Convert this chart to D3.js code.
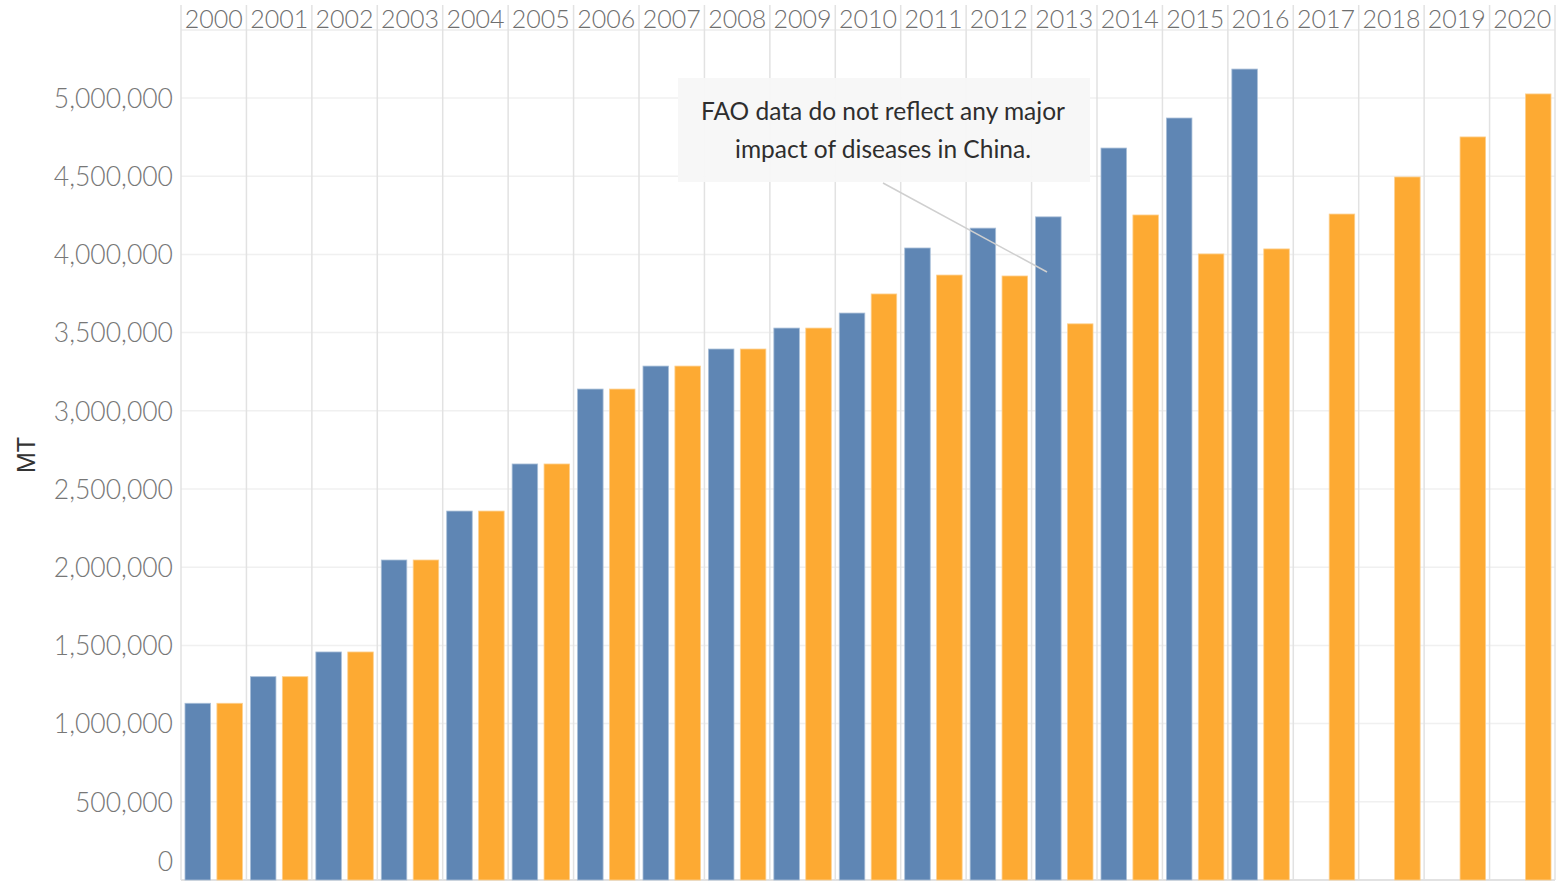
<!DOCTYPE html>
<html>
<head>
<meta charset="utf-8">
<script src="https://cdn.jsdelivr.net/npm/d3@7"></script>
<style>
  body { margin: 0; background: #fff; }
  svg { display: block; }
</style>
</head>
<body>
<svg width="1565" height="886"></svg>
<script>
// values (MT)
const years = ["2000","2001","2002","2003","2004","2005","2006","2007","2008","2009","2010",
               "2011","2012","2013","2014","2015","2016","2017","2018","2019","2020"];
const blueValues = [1130000, 1300000, 1458000, 2046000, 2359000, 2660000, 3139000, 3286000, 3395000, 3529000, 3625000,
                    4041000, 4168000, 4240000, 4680000, 4872000, 5185000, null, null, null, null];
const orangeValues = [1130000, 1300000, 1458000, 2046000, 2359000, 2660000, 3139000, 3286000, 3395000, 3529000, 3747000,
                      3868000, 3862000, 3556000, 4252000, 4003000, 4035000, 4258000, 4495000, 4751000, 5026000];
const yTicks = [0, 500000, 1000000, 1500000, 2000000, 2500000, 3000000, 3500000, 4000000, 4500000, 5000000];
const seriesKeys = ["blue", "orange"];
const noteLines = ["FAO data do not reflect any major", "impact of diseases in China."];

const colors = {blue: "#5f86b4", orange: "#fdaa33"};

const plotLeft = 181, plotRight = 1555, plotBottom = 880, headerBottom = 30;

const svg = d3.select("svg");

const x0 = d3.scaleBand()
    .domain(years)
    .range([plotLeft, plotRight])
    .padding(0);

const x1 = d3.scaleBand()
    .domain(seriesKeys)
    .range([0, x0.bandwidth()])
    .paddingInner(0.2)
    .paddingOuter(0.125);

const y = d3.scaleLinear()
    .domain([0, 5000000])
    .range([plotBottom, 98]);

// horizontal grid
svg.append("g")
    .selectAll("line")
    .data(yTicks)
    .enter().append("line")
    .attr("x1", plotLeft)
    .attr("x2", plotRight)
    .attr("y1", d => y(d))
    .attr("y2", d => y(d))
    .attr("stroke", d => d === 0 ? "#d9d9d9" : "#f0f0f0")
    .attr("stroke-width", 1.5);

// header separator
svg.append("line")
    .attr("x1", plotLeft).attr("x2", plotRight)
    .attr("y1", headerBottom).attr("y2", headerBottom)
    .attr("stroke", "#ececec")
    .attr("stroke-width", 1.5);

// column separators
svg.append("g")
    .selectAll("line")
    .data(years.concat(["end"]))
    .enter().append("line")
    .attr("x1", (d, i) => i < years.length ? x0(d) : plotRight)
    .attr("x2", (d, i) => i < years.length ? x0(d) : plotRight)
    .attr("y1", 5)
    .attr("y2", plotBottom)
    .attr("stroke", "#e2e2e2")
    .attr("stroke-width", 1.5);

// year header labels
svg.append("g")
    .selectAll("text")
    .data(years)
    .enter().append("text")
    .attr("x", d => x0(d) + x0.bandwidth() / 2)
    .attr("y", 28)
    .attr("text-anchor", "middle")
    .attr("font-family", "Lato, sans-serif")
    .attr("font-weight", 300)
    .attr("font-size", "25px")
    .attr("fill", "#6e6e6e")
    .text(d => d);

// y axis labels
const yAxis = d3.axisLeft(y)
    .tickValues(yTicks)
    .tickSize(0)
    .tickPadding(8)
    .tickFormat(d3.format(","));

const gy = svg.append("g")
    .attr("transform", `translate(${plotLeft}, 0)`)
    .call(yAxis);
gy.select(".domain").remove();
gy.selectAll("text")
    .attr("font-family", "Lato, sans-serif")
    .attr("font-weight", 300)
    .attr("font-size", "26.5px")
    .attr("fill", "#777")
    .attr("dy", d => d === 0 ? "-0.35em" : "0.35em");

// MT label
svg.append("text")
    .attr("transform", "translate(35, 455) rotate(-90)")
    .attr("text-anchor", "middle")
    .attr("font-family", "Liberation Sans, Arial, sans-serif")
    .attr("font-size", "25px")
    .attr("fill", "#333")
    .text("MT");

// bars
const rows = years.map((yr, i) => ({year: yr, blue: blueValues[i], orange: orangeValues[i]}));

const groups = svg.append("g")
    .selectAll("g")
    .data(rows)
    .enter().append("g")
    .attr("transform", d => `translate(${x0(d.year)}, 0)`);

groups.selectAll("rect")
    .data(d => seriesKeys.filter(k => d[k] != null).map(k => ({key: k, value: d[k]})))
    .enter().append("rect")
    .attr("x", d => x1(d.key))
    .attr("y", d => y(d.value))
    .attr("width", x1.bandwidth())
    .attr("height", d => plotBottom - y(d.value))
    .attr("fill", d => colors[d.key])
    .attr("stroke", d => d.key === "blue" ? "#a9bfd8" : "#fdd08f")
    .attr("stroke-width", 0.8);

// annotation
svg.append("line")
    .attr("x1", 883).attr("y1", 183)
    .attr("x2", 1047).attr("y2", 272)
    .attr("stroke", "#cfcfcf")
    .attr("stroke-width", 1.5);

svg.append("rect")
    .attr("x", 678)
    .attr("y", 78)
    .attr("width", 412)
    .attr("height", 104)
    .attr("fill", "#f7f7f7")
    .attr("fill-opacity", 0.95);

svg.append("g")
    .selectAll("text")
    .data(noteLines)
    .enter().append("text")
    .attr("x", 883)
    .attr("y", (d, i) => 120 + i * 38)
    .attr("text-anchor", "middle")
    .attr("font-family", "Lato, sans-serif")
    .attr("font-size", "24.5px")
    .attr("fill", "#2e2e2e")
    .text(d => d);
</script>
</body>
</html>
